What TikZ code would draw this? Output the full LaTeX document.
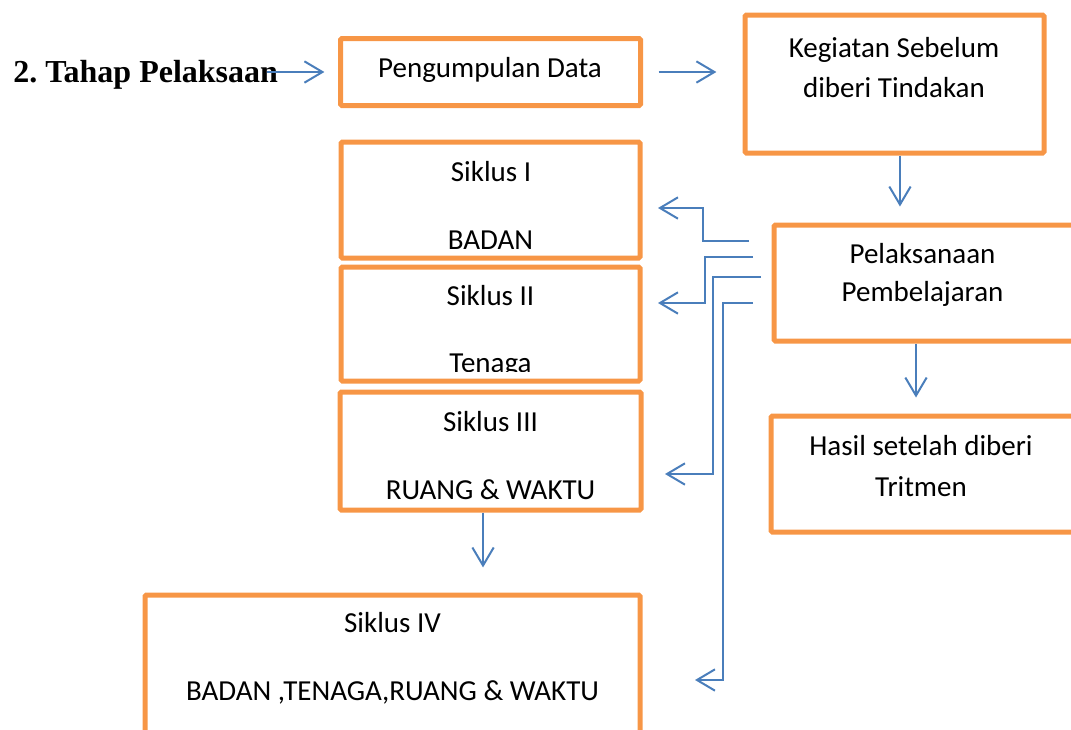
\documentclass[tikz,border=0pt]{standalone}
\usepackage{fontspec}
\setmainfont{Carlito}
\newfontfamily\titlefont{Liberation Serif}
\usetikzlibrary{arrows.meta}
\definecolor{boxor}{HTML}{F79646}
\definecolor{arrbl}{HTML}{4A7EBB}
\begin{document}
\frenchspacing
\begin{tikzpicture}[x=0.75pt,y=-0.75pt,
  box/.style={draw=boxor, line width=3.75pt, rounded corners=1pt, inner sep=0pt},
  bx/.style n args={2}{box, minimum width=#1*0.75pt, minimum height=#2*0.75pt},
  txt/.style={anchor=base, inner sep=0pt, font=\fontsize{21.75pt}{26pt}\selectfont},
  arr/.style={draw=arrbl, line width=1.5pt, -{Straight Barb[length=13.5pt,width=16pt]}},
]
\useasboundingbox (0,0) rectangle (1071,729);

% boxes
\node[bx={300}{67}]  (pd) at (490.5,72) {};
\node[bx={299}{138}] (kg) at (894.5,84) {};
\node[bx={302}{116}] (pl) at (925,283) {};
\node[bx={305}{116}] (hs) at (923.5,474) {};
\node[bx={299}{116}] (s1) at (490.5,200) {};
\node[bx={299}{114}] (s2) at (490.5,324) {};
\node[bx={301}{118}] (s3) at (490.5,451) {};
\node[bx={495}{150}] (s4) at (392.5,670) {};

% texts
\node[txt] (tpd)  at (490,77)    {Pengumpulan Data};
\node[txt] (tkg1) at (894,57)    {Kegiatan Sebelum};
\node[txt] (tkg2) at (894,97)    {diberi Tindakan};
\node[txt] (tpl1) at (922.5,263) {Pelaksanaan};
\node[txt] (tpl2) at (922.5,301) {Pembelajaran};
\node[txt] (ths1) at (921,455)   {Hasil setelah diberi};
\node[txt] (ths2) at (921,496)   {Tritmen};
\node[txt] (ts11) at (491,181)   {Siklus I};
\node[txt] (ts12) at (490.5,249) {BADAN};
\node[txt] (ts21) at (490.5,305) {Siklus II};
\begin{scope}
  \clip (343,269) rectangle (638,371);
  \node[txt] (ts22) at (490.5,372) {Tenaga};
\end{scope}
\node[txt] (ts31) at (490.5,431) {Siklus III};
\node[txt] (ts32) at (490.5,499) {RUANG \& WAKTU};
\node[txt] (ts41) at (392.5,632) {Siklus IV};
\node[txt] (ts42) at (392.5,700) {BADAN ,TENAGA,RUANG \& WAKTU};
\node[anchor=base west, inner sep=0pt, font=\fontsize{24pt}{28pt}\titlefont\bfseries\selectfont] (title) at (13,82) {2. Tahap Pelaksaan};

% straight connectors
\coordinate (ta) at (267,72);
\draw[arr, shorten >=10.2pt] (ta) -- (ta -| pd.west);
\draw[arr, shorten <=11.7pt, shorten >=19.6pt] (pd.east) -- (pd.east -| kg.west);
\draw[arr, shorten >=12pt] ([xshift=4.1pt]kg.south) -- ([xshift=4.1pt]kg.south |- pl.north);
\draw[arr, shorten >=12pt] ([xshift=-6.75pt]pl.south) -- ([xshift=-6.75pt]pl.south |- hs.north);
\draw[arr, shorten >=18.8pt] ([xshift=-5.6pt]s3.south) -- ([xshift=-5.6pt]s3.south |- s4.north);

% elbow connectors
\coordinate (e1a) at (749,241); \coordinate (e1b) at (658,208);
\coordinate (e2a) at (753,257); \coordinate (e2b) at (658,303);
\coordinate (e3a) at (761,277); \coordinate (e3b) at (665,474);
\coordinate (e4a) at (753,303); \coordinate (e4b) at (695,680);
\draw[arr] (e1a) -- (703,241) -- (703,208) -- (e1b);
\draw[arr] (e2a) -- (705,257) -- (705,303) -- (e2b);
\draw[arr] (e3a) -- (713,277) -- (713,474) -- (e3b);
\draw[arr] (e4a) -- (723,303) -- (723,680) -- (e4b);
\end{tikzpicture}
\end{document}
